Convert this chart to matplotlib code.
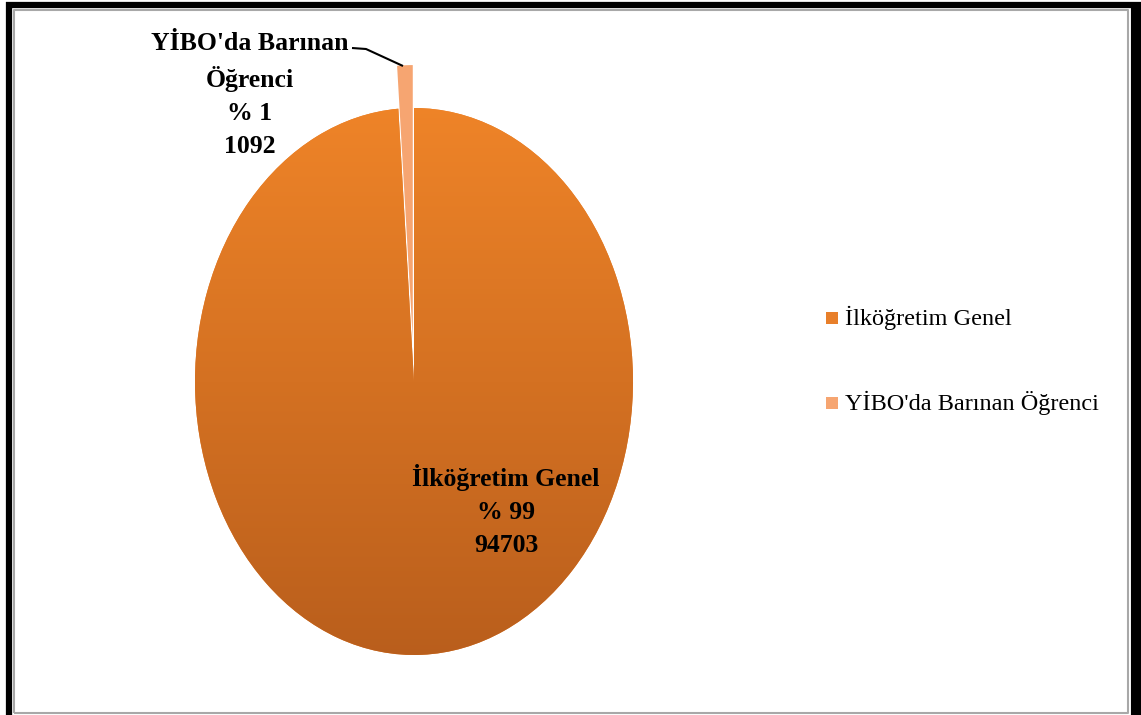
import matplotlib.pyplot as plt
import numpy as np
from matplotlib.colors import LinearSegmentedColormap
from matplotlib.patches import Rectangle

labels = ['İlköğretim Genel', "YİBO'da Barınan Öğrenci"]
values = [94703, 1092]
percents = ['% 99', '% 1']
colors = ['#E87F2A', '#F6A571']

plt.rcParams['font.family'] = ['Liberation Serif', 'DejaVu Serif']

fig = plt.figure(figsize=(11.41, 7.15), dpi=100)
W, H = 1141, 715


def px_line(xs, ys, color, lw):
    # line in pixel coordinates (origin top-left)
    fig.lines.append(plt.Line2D([x / W for x in xs], [1 - y / H for y in ys],
                                transform=fig.transFigure, color=color,
                                linewidth=lw, solid_capstyle='butt'))


# frame: black on left, top, right; thin grey inner line
px_line([9, 9], [2, 715], 'black', 4.5)
px_line([6, 1141], [5, 5], 'black', 4.5)
px_line([1135.5, 1135.5], [2, 715], 'black', 8)
px_line([14, 14, 1128, 1128, 14], [713, 10, 10, 713, 713], '#A8A8A8', 1.5)

# pie axes placed so the ellipse spans x 195..633, y 108..655 (pixels)
ax = fig.add_axes([195 / W, 1 - 655 / H, 438 / W, 547 / H])
wedges, _ = ax.pie(values, colors=colors, startangle=90, counterclock=False,
                   explode=[0, 0.157], radius=1)
ax.set_aspect('auto')

# vertical gradient on the big slice
cmap = LinearSegmentedColormap.from_list('og', ['#B95E1C', '#EF8428'])
grad = np.linspace(0, 1, 256).reshape(-1, 1)
img = ax.imshow(grad, cmap=cmap, extent=[-1.05, 1.05, -1.02, 1.02], origin='lower',
                aspect='auto', zorder=wedges[0].get_zorder() + 0.1)
img.set_clip_path(wedges[0])
ax.set_xlim(-1, 1)
ax.set_ylim(-1, 1)
ax.axis('off')

# data labels
ax.text(0.42, -0.4725, f'{labels[0]}\n{percents[0]}\n{values[0]}', ha='center', va='center',
        fontsize=18.5, fontweight='bold', linespacing=1.55, zorder=5)
lab1 = "YİBO'da Barınan\nÖğrenci"
fig.text(250 / W, 1 - 95 / H, f'{lab1}\n{percents[1]}\n{values[1]}', ha='center', va='center',
         fontsize=18.5, fontweight='bold', linespacing=1.55)
px_line([352, 366, 403], [48, 49, 66], 'black', 1.5)

# legend
leg_y = [318, 403]
for i, lab in enumerate(labels):
    fig.patches.append(Rectangle((826 / W, 1 - (leg_y[i] + 6) / H), 12 / W, 12 / H,
                                 transform=fig.transFigure, facecolor=colors[i], edgecolor='none'))
    fig.text(845 / W, 1 - leg_y[i] / H, lab, ha='left', va='center', fontsize=17.5)

fig.savefig('out.png', dpi=100)
